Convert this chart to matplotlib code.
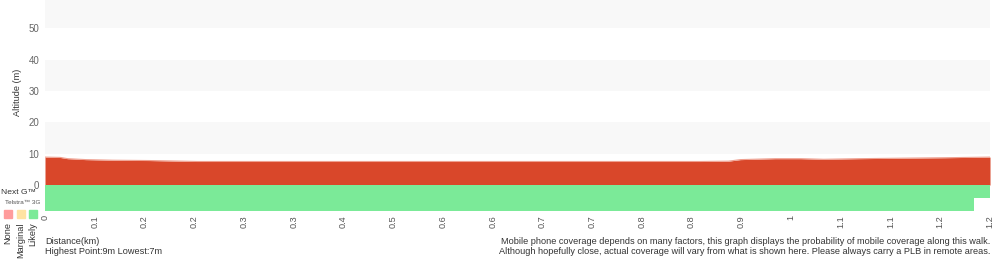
import numpy as np
import matplotlib
matplotlib.use("Agg")
import matplotlib.pyplot as plt

plt.rcParams["font.family"] = ["Liberation Sans", "DejaVu Sans"]

# elevation profile (km, m)
dist_km = [0, 0.02, 0.03, 0.054, 0.09, 0.139, 0.202, 0.47, 0.735, 0.867,
           0.904, 0.92, 0.966, 1.0, 1.03, 1.076, 1.19, 1.25]
alt_m = [8.9, 8.8, 8.4, 8.1, 7.9, 7.8, 7.5, 7.5, 7.5, 7.5,
         7.6, 8.1, 8.4, 8.4, 8.2, 8.4, 8.7, 8.9]
total_km = 1.25

# coverage rows, covered until km
nextg_end = 1.25
telstra3g_end = 1.229

tick_labels = ["0", "0.1", "0.2", "0.2", "0.3", "0.3", "0.4", "0.5", "0.6", "0.6",
               "0.7", "0.7", "0.8", "0.8", "0.9", "1", "1.1", "1.1", "1.2", "1.2"]

red = "#D9472A"
green = "#7BEA98"
txt = "#333333"
fs = 6.6

fig = plt.figure(figsize=(10, 2.6), dpi=100)

# main altitude axes
ax = fig.add_axes([0.045, 75 / 260, 0.945, 185 / 260])
for lo in (10, 30, 50):
    ax.axhspan(lo, lo + 10, color="#F8F8F8", lw=0, zorder=0)
ax.fill_between(dist_km, 0, alt_m, color=red, lw=0, zorder=2)
ax.plot(dist_km, alt_m, color="#EFA090", lw=0.8, zorder=3)
ax.set_xlim(0, total_km)
ax.set_ylim(0, 59)
ax.set_yticks([0, 10, 20, 30, 40, 50])
ax.tick_params(axis="y", length=0, labelsize=fs + 0.4, labelcolor="#666666", pad=4)
ax.set_xticks([])
ax.set_ylabel("Altitude (m)", fontsize=fs, color=txt, labelpad=5)
for s in ax.spines.values():
    s.set_visible(False)

# coverage axes
cax = fig.add_axes([0.045, 49 / 260, 0.945, 26 / 260])
cax.fill_between([0, nextg_end], 1, 2, color=green, lw=0)
cax.fill_between([0, telstra3g_end], 0, 1, color=green, lw=0)
cax.set_xlim(0, total_km)
cax.set_ylim(0, 2)
cax.set_yticks([])
cax.set_xticks(np.linspace(0, total_km, len(tick_labels)))
cax.set_xticklabels(tick_labels, rotation=90)
cax.tick_params(axis="x", length=0, labelsize=fs, labelcolor="#555555", pad=3)
for s in cax.spines.values():
    s.set_visible(False)

# legend on the left
fig.text(0.001, 1 - 192.5 / 260, "Next G\u2122", ha="left", va="center", fontsize=6.1, color=txt)
fig.text(0.005, 1 - 203 / 260, "Telstra\u2122 3G", ha="left", va="center", fontsize=4.6, color="#555555")
for x, c, lab in [(0.004, "#FF9C9C", "None"), (0.017, "#FFE3A3", "Marginal"), (0.029, "#7BEA98", "Likely")]:
    fig.patches.append(plt.Rectangle((x, 1 - 218 / 260), 0.008, 8 / 260, color=c,
                                     transform=fig.transFigure, figure=fig))
    fig.text(x + 0.004, 1 - 222 / 260, lab, rotation=90, ha="center", va="top", fontsize=fs, color=txt)

# footer texts
fig.text(0.045, 1 - 241 / 260, "Distance(km)", ha="left", va="center", fontsize=fs, color=txt)
fig.text(0.045, 1 - 252 / 260, "Highest Point:9m Lowest:7m", ha="left", va="center", fontsize=fs, color=txt)
fig.text(0.99, 1 - 241 / 260,
         "Mobile phone coverage depends on many factors, this graph displays the probability of mobile coverage along this walk.",
         ha="right", va="center", fontsize=fs, color=txt)
fig.text(0.99, 1 - 252 / 260,
         "Although hopefully close, actual coverage will vary from what is shown here. Please always carry a PLB in remote areas.",
         ha="right", va="center", fontsize=fs, color=txt)

fig.savefig("out.png", dpi=100)
